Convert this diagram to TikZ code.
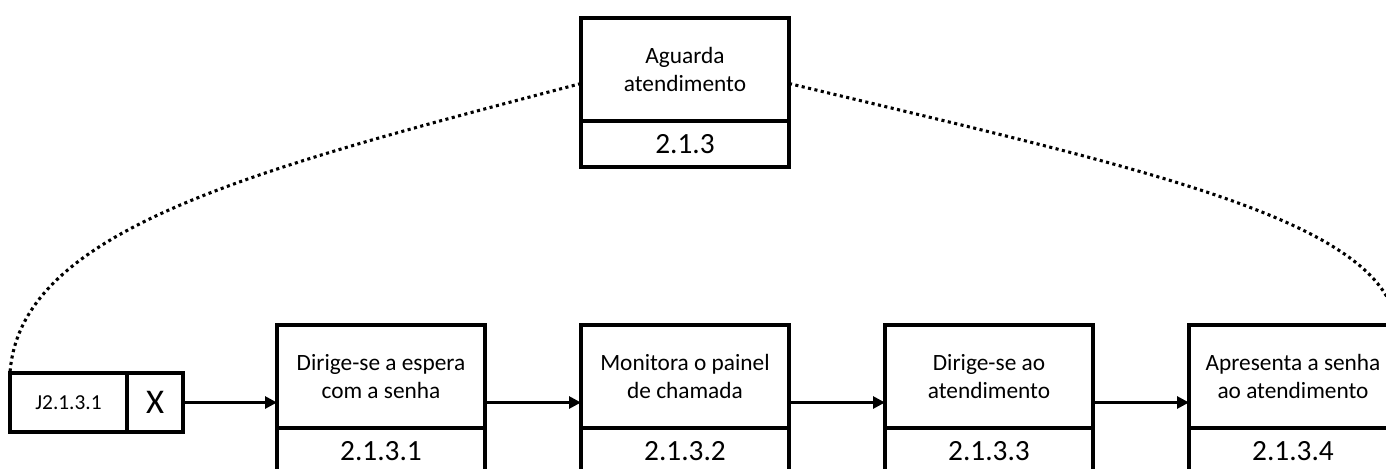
\documentclass[tikz,border=0pt]{standalone}
\usepackage{fontspec}
\setmainfont{Carlito}
\usetikzlibrary{arrows.meta, positioning}

\begin{document}
\begin{tikzpicture}[
          x=0.75pt, y=-0.75pt,
          node distance=72pt,
          task/.style={rectangle, draw, line width=2.3pt, outer sep=0pt, minimum width=156pt, minimum height=77.25pt, align=center, font=\fontsize{17.5}{21.5}\selectfont},
          code/.style={rectangle, draw, line width=2.3pt, outer sep=0pt, minimum width=156pt, minimum height=34.5pt, font=\fontsize{22}{24}\selectfont},
          jbox/.style={rectangle, draw, line width=2.3pt, outer sep=0pt, minimum height=44.25pt, inner sep=0pt},
          arrow/.style={-{Triangle[length=9pt,width=9pt]}, line width=2.1pt},
          dotline/.style={line width=2.3pt, dash pattern=on 2.3pt off 2.6pt}
        ]
          \path[use as bounding box] (0,0) rectangle (1386,468);
          \clip (0,0) rectangle (1386,468);
          \node (t1) [task] at (381,376.5) {Dirige-se a espera\\com a senha};
          \node (t1num) [code, below=0pt of t1] {2.1.3.1};
          \node (t2) [task, right=of t1] {Monitora o painel\\de chamada};
          \node (t2num) [code, below=0pt of t2] {2.1.3.2};
          \node (t3) [task, right=of t2] {Dirige-se ao\\atendimento};
          \node (t3num) [code, below=0pt of t3] {2.1.3.3};
          \node (t4) [task, right=of t3] {Apresenta a senha\\ao atendimento};
          \node (t4num) [code, below=0pt of t4] {2.1.3.4};
          \node (aguardanum) [code, above=118.5pt of t2] {2.1.3};
          \node (aguarda) [task, above=0pt of aguardanum] {Aguarda\\atendimento};
          \node (jlab) [jbox, minimum width=87.75pt, font=\fontsize{16}{18}\selectfont] at (68.5,402.5) {J2.1.3.1};
          \node (jx) [jbox, minimum width=42pt, right=0pt of jlab, font=\fontsize{26}{28}\selectfont] {X};
          \draw[arrow] (jx.east) -- (jx.east -| t1.west);
          \draw[arrow] (t1.east |- jx.east) -- (t2.west |- jx.east);
          \draw[arrow] (t2.east |- jx.east) -- (t3.west |- jx.east);
          \draw[arrow] (t3.east |- jx.east) -- (t4.west |- jx.east);
          \draw[dotline] ([yshift=-10.5pt]aguarda.west) .. controls +(-331,87) and +(10,-143) .. (jlab.north west);
          \draw[dotline] ([yshift=-10.5pt]aguarda.east) .. controls +(362,87) and +(-16,-105) .. (t4.north east);
        \end{tikzpicture}
\end{document}
